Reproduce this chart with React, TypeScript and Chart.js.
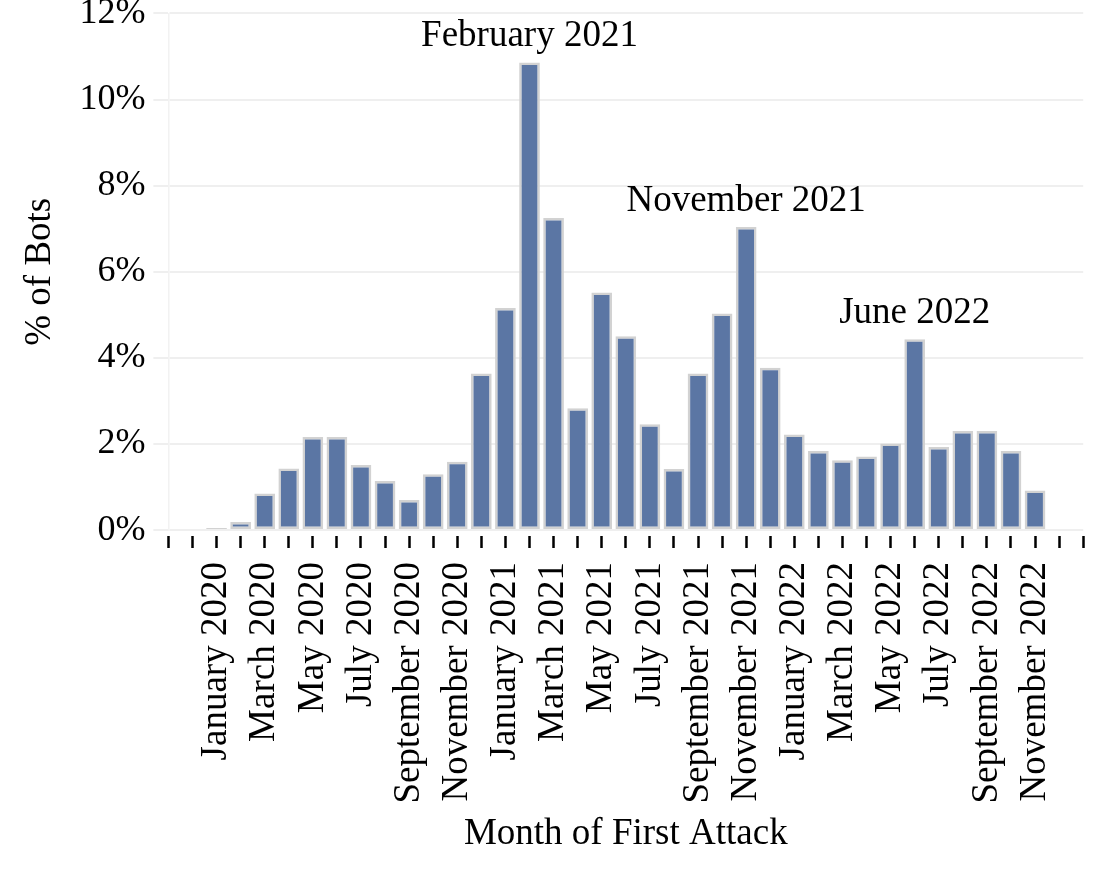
import { useEffect, useRef } from "react"
import { Chart, registerables } from "chart.js"

Chart.register(...registerables)

// Months from November 2019 to January 2023
const months = [
  "November 2019", "December 2019",
  "January 2020", "February 2020", "March 2020", "April 2020", "May 2020", "June 2020",
  "July 2020", "August 2020", "September 2020", "October 2020", "November 2020", "December 2020",
  "January 2021", "February 2021", "March 2021", "April 2021", "May 2021", "June 2021",
  "July 2021", "August 2021", "September 2021", "October 2021", "November 2021", "December 2021",
  "January 2022", "February 2022", "March 2022", "April 2022", "May 2022", "June 2022",
  "July 2022", "August 2022", "September 2022", "October 2022", "November 2022", "December 2022",
  "January 2023",
]

// % of bots by month of first attack
const botShare = [
  0, 0,
  0.05, 0.19, 0.85, 1.43, 2.16, 2.16,
  1.51, 1.14, 0.70, 1.30, 1.59, 3.64,
  5.16, 10.86, 7.25, 2.83, 5.52, 4.50,
  2.46, 1.42, 3.64, 5.03, 7.04, 3.77,
  2.22, 1.84, 1.62, 1.71, 2.01, 4.43,
  1.93, 2.30, 2.30, 1.84, 0.92, 0,
  0,
]

// every other month gets a tick label
const labelledMonths = [
  "January 2020", "March 2020", "May 2020", "July 2020", "September 2020", "November 2020",
  "January 2021", "March 2021", "May 2021", "July 2021", "September 2021", "November 2021",
  "January 2022", "March 2022", "May 2022", "July 2022", "September 2022", "November 2022",
]

const yTicks = [0, 2, 4, 6, 8, 10, 12]

const peakLabels = ["February 2021", "November 2021", "June 2022"]

const FONT = "'Liberation Serif', 'Times New Roman', serif"

const peakLabelPlugin = {
  id: "peakLabels",
  afterDatasetsDraw(chart: Chart) {
    const { ctx } = chart
    const x = chart.scales.x
    const y = chart.scales.y
    ctx.save()
    ctx.font = `37px ${FONT}`
    ctx.fillStyle = "#000"
    ctx.textAlign = "center"
    ctx.textBaseline = "alphabetic"
    peakLabels.forEach((m) => {
      const i = months.indexOf(m)
      ctx.fillText(m, x.getPixelForValue(i), y.getPixelForValue(botShare[i]) - 16)
    })
    ctx.restore()
  },
}

export default function App() {
  const chartRef = useRef<HTMLCanvasElement>(null)
  const chartInstance = useRef<Chart | null>(null)

  useEffect(() => {
    document.body.style.margin = "0"
    if (!chartRef.current) return
    if (chartInstance.current) chartInstance.current.destroy()

    chartInstance.current = new Chart(chartRef.current, {
      type: "bar",
      data: {
        labels: months,
        datasets: [
          {
            data: botShare,
            backgroundColor: "#5b76a4",
            borderColor: "#d2d2d2",
            borderWidth: 2.5,
            borderSkipped: false,
            categoryPercentage: 1,
            barPercentage: 0.86,
          },
        ],
      },
      plugins: [peakLabelPlugin],
      options: {
        animation: false,
        responsive: true,
        maintainAspectRatio: false,
        layout: { padding: { left: 8, right: 3, top: 0, bottom: 23 } },
        plugins: {
          legend: { display: false },
          tooltip: { enabled: false },
        },
        scales: {
          x: {
            offset: false,
            border: { display: false },
            grid: {
              offset: false,
              drawOnChartArea: false,
              tickLength: 18,
              tickColor: "#000",
              tickWidth: 2.5,
              tickBorderDash: [0, 6, 12, 100],
            },
            ticks: {
              autoSkip: false,
              maxRotation: 90,
              minRotation: 90,
              padding: 14,
              color: "#000",
              font: { family: FONT, size: 37, lineHeight: 0.4 },
              callback: (_v, i) => (labelledMonths.includes(months[i]) ? months[i] : ""),
            },
            title: {
              display: true,
              text: "Month of First Attack",
              color: "#000",
              font: { family: FONT, size: 37 },
              padding: { top: -6, bottom: 8 },
            },
          },
          y: {
            min: 0,
            max: 12,
            border: { display: true, color: "#f2f2f2", width: 1.5 },
            grid: {
              color: "#efefef",
              lineWidth: 2,
              tickLength: 15,
            },
            afterBuildTicks: (scale) => {
              scale.ticks = yTicks.map((v) => ({ value: v }))
            },
            ticks: {
              padding: 8,
              color: "#000",
              font: { family: FONT, size: 36, lineHeight: 0.3 },
              callback: (v) => `${v}%`,
            },
            title: {
              display: true,
              text: "% of Bots",
              color: "#000",
              font: { family: FONT, size: 37 },
              padding: { top: 10, bottom: 9 },
            },
          },
        },
      },
    })

    return () => {
      if (chartInstance.current) {
        chartInstance.current.destroy()
        chartInstance.current = null
      }
    }
  }, [])

  // the canvas is a bit wider than the frame so the plot runs to the right edge like the original
  return (
    <div style={{ width: 1100, height: 887, overflow: "hidden", background: "#fff" }}>
      <div style={{ width: 1112, height: 887, position: "relative" }}>
        <canvas ref={chartRef} />
      </div>
    </div>
  )
}
